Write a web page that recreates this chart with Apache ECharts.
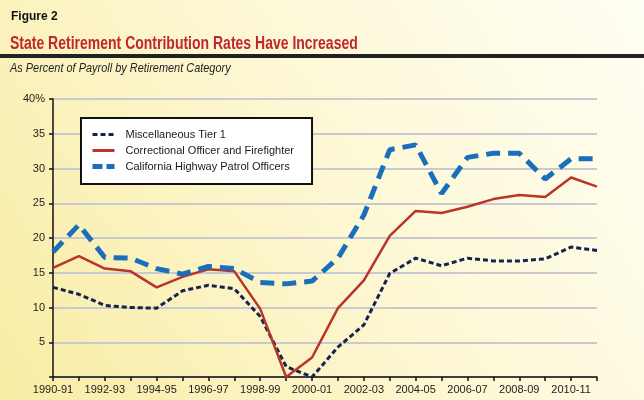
<!DOCTYPE html>
<html><head><meta charset="utf-8">
<script src="https://cdn.jsdelivr.net/npm/echarts@6/dist/echarts.min.js"></script>
<style>html,body{margin:0;padding:0;}#c{width:644px;height:400px;}</style>
</head><body><div id="c"></div>
<script>
var categories = ['1990-91','1991-92','1992-93','1993-94','1994-95','1995-96','1996-97','1997-98','1998-99','1999-00','2000-01','2001-02','2002-03','2003-04','2004-05','2005-06','2006-07','2007-08','2008-09','2009-10','2010-11','2011-12'];
var miscTier1 = [12.9,11.9,10.3,10.0,9.9,12.4,13.2,12.7,8.7,1.5,0,4.3,7.5,14.9,17.1,16.0,17.1,16.7,16.7,17.0,18.7,18.2];
var correctional = [15.7,17.4,15.6,15.2,12.9,14.4,15.5,15.2,9.8,0,2.8,9.9,13.9,20.3,23.9,23.6,24.5,25.6,26.2,25.9,28.7,27.4];
var chp = [18.0,21.9,17.2,17.1,15.6,14.8,15.9,15.6,13.6,13.4,13.8,17.1,23.3,32.7,33.4,26.4,31.6,32.2,32.2,28.5,31.4,31.4];
var yTickLabels = ['', '5', '10', '15', '20', '25', '30', '35', '40%'];

var chart = echarts.init(document.getElementById('c'), null, {renderer: 'canvas'});
var font = 'Liberation Sans, Arial, sans-serif';
chart.setOption({
  animation: false,
  backgroundColor: {type: 'linear', x: 1, y: 0, x2: 0, y2: 1, colorStops: [{offset: 0, color: '#fffef4'}, {offset: 0.5, color: '#fdf7d2'}, {offset: 1, color: '#f8eca4'}]},
  graphic: [
    {type: 'text', left: 11, top: 11, style: {text: 'Figure 2', font: 'bold 12px ' + font, fill: '#111'}},
    {type: 'text', x: 10, y: 35, scaleX: 0.8, style: {text: 'State Retirement Contribution Rates Have Increased', font: 'bold 17.5px ' + font, fill: '#c0282d'}},
    {type: 'rect', shape: {x: 0, y: 54, width: 644, height: 4}, style: {fill: '#222'}},
    {type: 'text', x: 10, y: 61, scaleX: 0.81, style: {text: 'As Percent of Payroll by Retirement Category', font: 'italic 13.5px ' + font, fill: '#222'}}
  ],
  grid: {left: 53, right: 47, top: 99, bottom: 23, containLabel: false},
  legend: {
    orient: 'vertical', left: 81, top: 118,
    backgroundColor: '#ffffff', borderColor: '#111', borderWidth: 2, borderRadius: 0,
    padding: [11, 18, 12, 9], itemGap: 5, itemWidth: 22, itemHeight: 12,
    itemStyle: {opacity: 0},
    textStyle: {fontFamily: font, fontSize: 11, color: '#1a1a1a', padding: [0, 0, 0, 6]},
    data: [
      {name: 'Miscellaneous Tier 1', lineStyle: {width: 3, type: [5, 3], color: '#16224e'}},
      {name: 'Correctional Officer and Firefighter', lineStyle: {width: 3, color: '#bb3329'}},
      {name: 'California Highway Patrol Officers', lineStyle: {width: 5, type: [10, 4], color: '#1a6fbd'}}
    ]
  },
  xAxis: {
    type: 'category', data: categories, boundaryGap: false,
    axisLine: {lineStyle: {color: '#111', width: 1.5}},
    axisTick: {show: true, interval: 0, length: 4, lineStyle: {color: '#111', width: 1.5}},
    axisLabel: {interval: 1, fontFamily: font, fontSize: 11, color: '#222', margin: 7}
  },
  yAxis: {
    type: 'value', min: 0, max: 40, interval: 5,
    axisLine: {show: true, lineStyle: {color: '#111', width: 1.5}},
    axisTick: {show: true, length: 4, lineStyle: {color: '#111', width: 1.5}},
    splitLine: {lineStyle: {color: '#c9c9d2', width: 2}},
    axisLabel: {fontFamily: font, fontSize: 11, color: '#222', margin: 8,
      formatter: function (v) { return yTickLabels[Math.round(v / 5)]; }}
  },
  series: [
    {name: 'Miscellaneous Tier 1', type: 'line', data: miscTier1, symbol: 'none',
      lineStyle: {color: '#16224e', width: 3, type: [5, 3]}, itemStyle: {color: '#16224e'}},
    {name: 'Correctional Officer and Firefighter', type: 'line', data: correctional, symbol: 'none',
      lineStyle: {color: '#bb3329', width: 2.5}, itemStyle: {color: '#bb3329'}},
    {name: 'California Highway Patrol Officers', type: 'line', data: chp, symbol: 'none',
      lineStyle: {color: '#1a6fbd', width: 5, type: [14, 8]}, itemStyle: {color: '#1a6fbd'}}
  ]
});
</script></body></html>
